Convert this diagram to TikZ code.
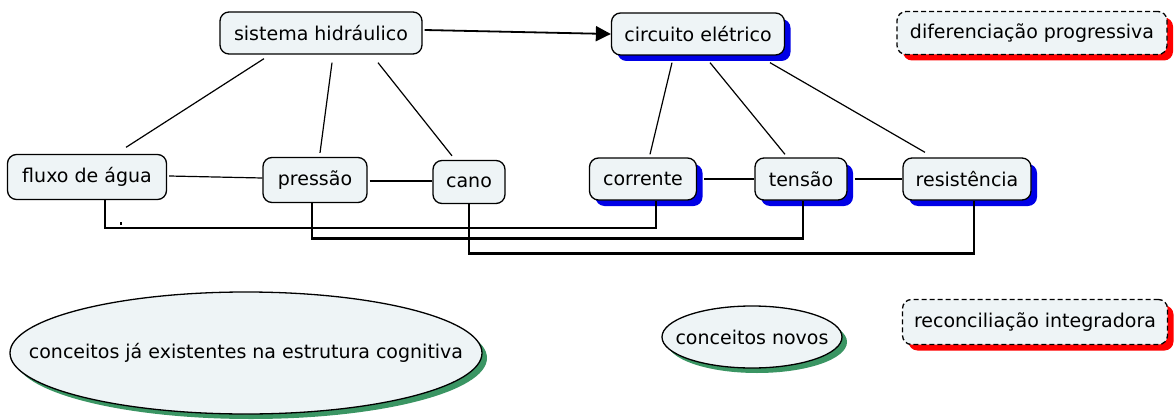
\documentclass[tikz,border=0pt]{standalone}
\usepackage{fontspec}
\setmainfont{DejaVu Sans}
\usetikzlibrary{shapes.geometric,shadows,arrows.meta,calc}
\definecolor{nodefill}{HTML}{EEF4F6}
\definecolor{shblue}{HTML}{0000E6}
\definecolor{shred}{HTML}{FF0000}
\definecolor{shgreen}{HTML}{3A9563}
\begin{document}
\begin{tikzpicture}[x=1pt,y=-1pt,
  font=\fontsize{19}{22}\selectfont,
  box/.style={draw, line width=1.3pt, rounded corners=9pt, fill=nodefill, inner sep=0pt, minimum height=42pt},
  ell/.style={draw, ellipse, line width=1.3pt, fill=nodefill, inner sep=0pt},
  bsh/.style={drop shadow={shadow xshift=6pt,shadow yshift=-6pt,fill=shblue,opacity=1}},
  rsh/.style={drop shadow={shadow xshift=6pt,shadow yshift=-6pt,fill=shred,opacity=1}},
  gsh/.style={drop shadow={shadow xshift=5pt,shadow yshift=-5pt,fill=shgreen,opacity=1}},
  dsh/.style={dash pattern=on 5pt off 3pt},
  conn/.style={line width=1.2pt},
  bus/.style={line width=2.4pt}]
\useasboundingbox (0,0) rectangle (1175,420);

% nodes
\node[box, minimum width=202pt] (sis) at (321,33) {sistema hidráulico};
\node[box, bsh, minimum width=173pt] (cir) at (698,34) {circuito elétrico};
\node[box, rsh, dsh, minimum width=270pt, minimum height=43pt] (dif) at (1032,33) {diferenciação progressiva};

\node[box, minimum width=159pt, minimum height=45pt] (flu) at (87,177) {fluxo de água};
\node[box, minimum width=104pt, minimum height=45pt] (pre) at (315,180) {pressão};
\node[box, minimum width=72pt, minimum height=43pt] (can) at (469,182) {cano};
\node[box, bsh, minimum width=107pt] (cor) at (643,179) {corrente};
\node[box, bsh, minimum width=92pt] (ten) at (801,179) {tensão};
\node[box, bsh, minimum width=128pt] (res) at (967,179) {resistência};

\node[ell, gsh, minimum width=472pt, minimum height=122pt] (old) at (246,353) {\makebox[0pt]{conceitos já existentes na estrutura cognitiva}};
\node[ell, gsh, minimum width=180pt, minimum height=62pt] (new) at (752,337) {\makebox[0pt]{conceitos novos}};
\node[box, rsh, dsh, minimum width=265pt, minimum height=45pt] (rec) at (1035,322) {reconciliação integradora};

% top arrow
\draw[line width=1.8pt, -{Triangle[length=15pt,width=15pt]}] ($(sis.east)+(2,-3)$) -- (cir.west);

% sistema hidraulico links
\draw[conn] ($(sis.south)+(-57,4)$) -- ($(flu.north)+(39,-6.5)$);
\draw[conn] ($(sis.south)+(11,8)$) -- ($(pre.north)+(5,-4)$);
\draw[conn] ($(sis.south)+(57,8)$) -- ($(can.north)+(-17,-4)$);

% circuito eletrico links
\draw[conn] ($(cir.south)+(-26,7)$) -- ($(cor.north)+(7,-3)$);
\draw[conn] ($(cir.south)+(12,7)$) -- ($(ten.north)+(-16,-3)$);
\draw[conn] ($(cir.south)+(72,7)$) -- ($(res.north)+(-42,-5)$);

% horizontal links
\draw[conn] ($(flu.east)+(2,-1)$) -- ($(pre.west)+(0,-2)$);
\draw[conn] ($(pre.east)+(2,1)$) -- ($(can.west)+(0,-1)$);
\draw[conn] ($(cor.east)+(7,0)$) -- (ten.west);
\draw[conn] ($(ten.east)+(7,0)$) -- (res.west);

% bottom buses
\draw[bus] ($(flu.south)+(18,0)$) -- ++(0,28) -| ($(cor.south)+(13,0)$);
\draw[bus] ($(pre.south)+(-3,0)$) -- ++(0,35.5) -| ($(ten.south)+(2,0)$);
\draw[bus] (can.south) -- ++(0,49.5) -| ($(res.south)+(7,0)$);
\draw[line width=1.4pt] (121,222) -- (121,225);
\end{tikzpicture}
\end{document}
